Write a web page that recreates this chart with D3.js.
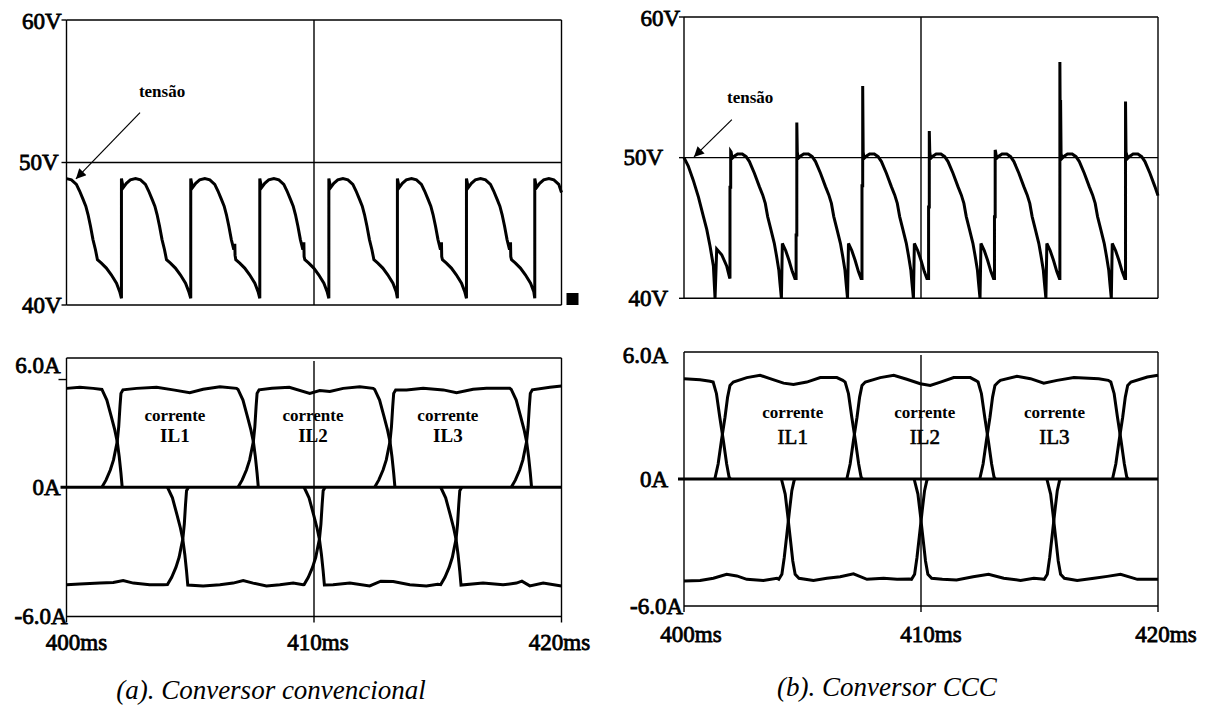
<!DOCTYPE html>
<html><head><meta charset="utf-8">
<script src="https://cdn.jsdelivr.net/npm/d3@7"></script>
<style>body{margin:0;background:#fff}svg{display:block}</style>
</head><body>
<svg id="c" width="1210" height="706"></svg>
<script>
// ---------- data ----------
const timeTicks = [400, 410, 420];
const voltTicks = [60, 50, 40];
const currTicks = [6, 0, -6];
const timeLabels = ["400ms", "410ms", "420ms"];
const voltLabels = ["60V", "50V", "40V"];
const currLabels = ["6.0A", "0A", "-6.0A"];
const captions = ["(a). Conversor convencional", "(b). Conversor CCC"];
const currentNames = ["IL1", "IL2", "IL3"];

// (a) output voltage, conventional converter  [ms, V]
const voltA = [
[400.00,48.87],[400.20,48.78],[400.40,48.47],[400.53,48.00],[400.67,47.41],[400.78,46.94],[400.87,46.35],[400.97,45.53],[401.07,44.59],[401.17,43.88],[401.25,43.18],[401.41,42.94],[401.61,42.59],[401.81,42.12],[402.02,41.53],[402.15,40.94],
[402.22,40.47],[402.22,48.87],[402.29,48.24],[402.42,48.54],[402.58,48.78],[402.79,48.87],[402.99,48.78],[403.19,48.47],[403.32,48.00],[403.46,47.41],[403.57,46.94],[403.66,46.35],[403.76,45.53],[403.86,44.59],[403.96,43.88],[404.04,43.18],[404.20,42.94],[404.40,42.59],[404.60,42.12],[404.81,41.53],[404.94,40.94],
[405.02,40.47],[405.02,48.87],[405.09,48.24],[405.22,48.54],[405.38,48.78],[405.59,48.87],[405.79,48.78],[405.99,48.47],[406.12,48.00],[406.26,47.41],[406.37,46.94],[406.46,46.35],[406.56,45.53],[406.66,44.59],[406.76,43.88],[406.80,44.30],[406.81,43.50],[406.84,43.18],[407.00,42.94],[407.20,42.59],[407.40,42.12],[407.61,41.53],[407.74,40.94],
[407.81,40.47],[407.81,48.87],[407.88,48.24],[408.01,48.54],[408.17,48.78],[408.38,48.87],[408.58,48.78],[408.78,48.47],[408.91,48.00],[409.05,47.41],[409.16,46.94],[409.25,46.35],[409.35,45.53],[409.45,44.59],[409.55,43.88],[409.59,44.40],[409.60,43.40],[409.63,43.18],[409.79,42.94],[409.99,42.59],[410.19,42.12],[410.40,41.53],[410.53,40.94],
[410.60,40.47],[410.60,48.87],[410.67,48.24],[410.80,48.54],[410.96,48.78],[411.17,48.87],[411.37,48.78],[411.57,48.47],[411.70,48.00],[411.84,47.41],[411.95,46.94],[412.04,46.35],[412.14,45.53],[412.24,44.59],[412.34,43.88],[412.42,43.18],[412.58,42.94],[412.78,42.59],[412.98,42.12],[413.19,41.53],[413.32,40.94],
[413.37,40.47],[413.37,48.87],[413.44,48.24],[413.57,48.54],[413.73,48.78],[413.94,48.87],[414.14,48.78],[414.34,48.47],[414.47,48.00],[414.61,47.41],[414.72,46.94],[414.81,46.35],[414.91,45.53],[415.01,44.59],[415.11,43.88],[415.15,44.40],[415.16,43.40],[415.19,43.18],[415.35,42.94],[415.55,42.59],[415.75,42.12],[415.96,41.53],[416.09,40.94],
[416.16,40.47],[416.16,48.87],[416.23,48.24],[416.36,48.54],[416.52,48.78],[416.73,48.87],[416.93,48.78],[417.13,48.47],[417.26,48.00],[417.40,47.41],[417.51,46.94],[417.60,46.35],[417.70,45.53],[417.80,44.59],[417.90,43.88],[417.94,44.40],[417.95,43.40],[417.98,43.18],[418.14,42.94],[418.34,42.59],[418.54,42.12],[418.75,41.53],[418.88,40.94],
[418.92,40.47],[418.92,48.87],[418.99,48.24],[419.12,48.54],[419.28,48.78],[419.49,48.87],[419.69,48.78],[419.89,48.47],[420.00,47.90]
];

// (b) output voltage, CCC converter  [ms, V]
const voltB = [
[400.00,50.00],[400.18,49.40],[400.39,48.40],[400.61,47.20],[400.82,45.80],[400.96,44.90],[401.10,43.70],[401.24,42.30],[401.31,40.00],[401.38,43.50],[401.59,43.10],[401.80,42.30],[401.92,41.50],
[401.94,41.40],[401.94,47.90],[401.97,47.90],[401.97,50.45],[401.99,50.40],[402.03,49.95],[402.12,50.10],[402.26,50.26],[402.46,50.26],[402.62,50.07],[402.76,49.72],[402.97,48.89],[403.18,47.94],[403.32,47.35],[403.43,46.75],[403.53,45.81],[403.67,44.86],[403.81,43.91],[403.91,42.96],[404.00,42.02],[404.05,41.07],[404.11,40.00],[404.15,43.90],[404.29,43.40],[404.43,42.70],[404.57,41.90],[404.68,41.40],
[404.73,41.40],[404.73,44.50],[404.76,44.50],[404.76,52.50],[404.78,50.40],[404.82,49.95],[404.91,50.10],[405.05,50.26],[405.25,50.26],[405.41,50.07],[405.55,49.72],[405.76,48.89],[405.97,47.94],[406.11,47.35],[406.22,46.75],[406.32,45.81],[406.46,44.86],[406.60,43.91],[406.70,42.96],[406.79,42.02],[406.84,41.07],[406.90,40.00],[406.94,43.90],[407.08,43.40],[407.22,42.70],[407.36,41.90],[407.47,41.40],
[407.51,41.40],[407.51,48.00],[407.54,48.00],[407.54,55.10],[407.56,50.40],[407.60,49.95],[407.69,50.10],[407.83,50.26],[408.03,50.26],[408.19,50.07],[408.33,49.72],[408.54,48.89],[408.75,47.94],[408.89,47.35],[409.00,46.75],[409.10,45.81],[409.24,44.86],[409.38,43.91],[409.48,42.96],[409.57,42.02],[409.62,41.07],[409.68,40.00],[409.72,43.90],[409.86,43.40],[410.00,42.70],[410.14,41.90],[410.25,41.40],
[410.32,41.40],[410.32,46.50],[410.35,46.50],[410.35,51.90],[410.37,50.40],[410.41,49.95],[410.50,50.10],[410.64,50.26],[410.84,50.26],[411.00,50.07],[411.14,49.72],[411.35,48.89],[411.56,47.94],[411.70,47.35],[411.81,46.75],[411.91,45.81],[412.05,44.86],[412.19,43.91],[412.29,42.96],[412.38,42.02],[412.43,41.07],[412.49,40.00],[412.53,43.90],[412.67,43.40],[412.81,42.70],[412.95,41.90],[413.06,41.40],
[413.10,41.40],[413.10,45.80],[413.13,45.80],[413.13,50.55],[413.15,50.40],[413.19,49.95],[413.28,50.10],[413.42,50.26],[413.62,50.26],[413.78,50.07],[413.92,49.72],[414.13,48.89],[414.34,47.94],[414.48,47.35],[414.59,46.75],[414.69,45.81],[414.83,44.86],[414.97,43.91],[415.07,42.96],[415.16,42.02],[415.21,41.07],[415.27,40.00],[415.31,43.90],[415.45,43.40],[415.59,42.70],[415.73,41.90],[415.84,41.40],
[415.86,41.40],[415.86,56.80],[415.88,50.40],[415.89,54.10],[415.91,50.30],[415.95,49.95],[416.04,50.10],[416.18,50.26],[416.38,50.26],[416.54,50.07],[416.68,49.72],[416.89,48.89],[417.10,47.94],[417.24,47.35],[417.35,46.75],[417.45,45.81],[417.59,44.86],[417.73,43.91],[417.83,42.96],[417.92,42.02],[417.97,41.07],[418.03,40.00],[418.07,43.90],[418.21,43.40],[418.35,42.70],[418.49,41.90],[418.60,41.40],
[418.63,41.40],[418.63,54.00],[418.65,50.40],[418.72,49.95],[418.81,50.10],[418.95,50.26],[419.15,50.26],[419.31,50.07],[419.45,49.72],[419.66,48.89],[419.87,47.94],[420.00,47.30]
];

// (a) inductor currents [ms, A] : positive pulses
const curA_p0 = [[400.00,4.59],[400.54,4.64],[401.08,4.59],[401.43,4.54],[401.63,4.05],[401.81,3.28],[401.95,2.66],[402.05,2.12],[402.13,1.42],[402.20,0.65],[402.25,0]];
const curA_p1 = [[401.43,0],[401.60,0.34],[401.77,0.80],[401.90,1.27],[401.98,1.73],[402.05,2.12],[402.11,2.81],[402.16,3.74],[402.20,4.36],[402.28,4.52],[402.83,4.59],[403.64,4.64],[404.31,4.52],[404.98,4.39],[405.52,4.55],[406.20,4.67],[406.87,4.59],[406.93,4.54],[407.13,4.05],[407.31,3.28],[407.45,2.66],[407.55,2.12],[407.63,1.42],[407.70,0.65],[407.75,0]];
const curA_p2 = [[406.93,0],[407.10,0.34],[407.27,0.80],[407.40,1.27],[407.48,1.73],[407.55,2.12],[407.61,2.81],[407.66,3.74],[407.70,4.36],[407.78,4.52],[408.30,4.60],[409.00,4.64],[409.83,4.36],[410.23,4.49],[410.64,4.45],[411.18,4.59],[411.85,4.67],[412.39,4.59],[412.45,4.54],[412.65,4.05],[412.83,3.28],[412.97,2.66],[413.07,2.12],[413.15,1.42],[413.22,0.65],[413.27,0]];
const curA_p3 = [[412.45,0],[412.62,0.34],[412.79,0.80],[412.92,1.27],[413.00,1.73],[413.07,2.12],[413.13,2.81],[413.18,3.74],[413.22,4.36],[413.30,4.52],[413.74,4.52],[414.41,4.59],[415.22,4.52],[415.76,4.39],[416.43,4.55],[416.97,4.59],[417.91,4.59],[417.97,4.54],[418.17,4.05],[418.35,3.28],[418.49,2.66],[418.59,2.12],[418.67,1.42],[418.74,0.65],[418.79,0]];
const curA_p4 = [[417.97,0],[418.14,0.34],[418.31,0.80],[418.44,1.27],[418.52,1.73],[418.59,2.12],[418.65,2.81],[418.70,3.74],[418.74,4.36],[418.82,4.52],[419.53,4.64],[420.00,4.70]];
// (a) negative pulses
const curA_n0 = [[400.00,-4.53],[400.54,-4.49],[401.35,-4.45],[401.89,-4.42],[402.29,-4.33],[402.70,-4.45],[403.36,-4.53],[403.91,-4.53],[404.08,-4.52],[404.25,-4.18],[404.42,-3.72],[404.55,-3.25],[404.63,-2.79],[404.70,-2.40],[404.76,-1.71],[404.81,-0.78],[404.85,-0.16],[404.93,0]];
const curA_n1 = [[404.08,0],[404.28,-0.49],[404.46,-1.26],[404.60,-1.88],[404.70,-2.42],[404.78,-3.12],[404.85,-3.89],[404.90,-4.54],[405.52,-4.58],[406.20,-4.53],[406.73,-4.45],[407.14,-4.33],[407.54,-4.45],[408.08,-4.58],[408.62,-4.53],[409.16,-4.45],[409.56,-4.53],[409.60,-4.52],[409.77,-4.18],[409.94,-3.72],[410.07,-3.25],[410.15,-2.79],[410.22,-2.40],[410.28,-1.71],[410.33,-0.78],[410.37,-0.16],[410.45,0]];
const curA_n2 = [[409.60,0],[409.80,-0.49],[409.98,-1.26],[410.12,-1.88],[410.22,-2.42],[410.30,-3.12],[410.37,-3.89],[410.42,-4.54],[410.77,-4.53],[411.45,-4.45],[412.25,-4.58],[412.70,-4.36],[413.20,-4.38],[413.87,-4.53],[414.54,-4.58],[415.00,-4.50],[415.12,-4.52],[415.29,-4.18],[415.46,-3.72],[415.59,-3.25],[415.67,-2.79],[415.74,-2.40],[415.80,-1.71],[415.85,-0.78],[415.89,-0.16],[415.97,0]];
const curA_n3 = [[415.12,0],[415.32,-0.49],[415.50,-1.26],[415.64,-1.88],[415.74,-2.42],[415.82,-3.12],[415.89,-3.89],[415.94,-4.54],[416.83,-4.45],[417.64,-4.53],[418.18,-4.45],[418.40,-4.36],[418.72,-4.58],[419.26,-4.45],[420.00,-4.58]];

// (b) inductor currents [ms, A] : positive pulses
const curB_p0 = [[400.00,4.74],[400.68,4.69],[401.10,4.62],[401.23,4.58],[401.37,4.03],[401.51,2.92],[401.66,1.82],[401.80,0.71],[401.90,0.10],[401.96,0]];
const curB_p1 = [[401.30,0],[401.44,0.71],[401.58,1.82],[401.73,2.92],[401.84,3.87],[401.94,4.42],[402.08,4.58],[402.65,4.79],[403.21,4.90],[403.63,4.74],[404.20,4.53],[404.62,4.47],[405.18,4.58],[405.75,4.79],[406.45,4.79],[406.70,4.66],[406.80,4.58],[406.94,4.03],[407.08,2.92],[407.23,1.82],[407.37,0.71],[407.47,0.10],[407.53,0]];
const curB_p2 = [[406.87,0],[407.01,0.71],[407.15,1.82],[407.30,2.92],[407.41,3.87],[407.51,4.42],[407.65,4.58],[408.28,4.79],[408.85,4.90],[409.40,4.71],[409.97,4.50],[410.39,4.42],[410.82,4.58],[411.38,4.79],[412.08,4.79],[412.30,4.66],[412.41,4.58],[412.55,4.03],[412.69,2.92],[412.84,1.82],[412.98,0.71],[413.08,0.10],[413.14,0]];
const curB_p3 = [[412.48,0],[412.62,0.71],[412.76,1.82],[412.91,2.92],[413.02,3.87],[413.12,4.42],[413.26,4.58],[413.35,4.66],[414.05,4.85],[414.62,4.74],[415.18,4.53],[415.74,4.66],[416.45,4.79],[417.50,4.74],[417.90,4.66],[418.01,4.58],[418.15,4.03],[418.29,2.92],[418.44,1.82],[418.58,0.71],[418.68,0.10],[418.74,0]];
const curB_p4 = [[418.08,0],[418.22,0.71],[418.36,1.82],[418.51,2.92],[418.62,3.87],[418.72,4.42],[418.86,4.58],[419.55,4.82],[420.00,4.90]];
// (b) negative pulses
const curB_n0 = [[400.00,-4.82],[400.68,-4.79],[401.24,-4.69],[401.80,-4.50],[402.23,-4.58],[402.65,-4.74],[403.35,-4.79],[403.92,-4.69],[404.00,-4.74],[404.13,-4.50],[404.23,-3.71],[404.34,-2.61],[404.45,-1.50],[404.55,-0.55],[404.65,-0.05],[404.69,0]];
const curB_n1 = [[404.11,0],[404.27,-0.71],[404.37,-1.66],[404.48,-2.76],[404.59,-3.87],[404.69,-4.50],[404.85,-4.69],[405.46,-4.79],[406.03,-4.69],[406.59,-4.62],[407.15,-4.48],[407.72,-4.74],[408.42,-4.69],[408.99,-4.74],[409.50,-4.72],[409.60,-4.74],[409.73,-4.50],[409.83,-3.71],[409.94,-2.61],[410.05,-1.50],[410.15,-0.55],[410.25,-0.05],[410.29,0]];
const curB_n2 = [[409.71,0],[409.87,-0.71],[409.97,-1.66],[410.08,-2.76],[410.19,-3.87],[410.29,-4.50],[410.45,-4.69],[410.90,-4.74],[411.50,-4.77],[412.20,-4.62],[412.85,-4.50],[413.49,-4.69],[414.20,-4.79],[414.76,-4.69],[415.10,-4.72],[415.20,-4.74],[415.33,-4.50],[415.43,-3.71],[415.54,-2.61],[415.65,-1.50],[415.75,-0.55],[415.85,-0.05],[415.89,0]];
const curB_n3 = [[415.31,0],[415.47,-0.71],[415.57,-1.66],[415.68,-2.76],[415.79,-3.87],[415.89,-4.50],[416.05,-4.69],[416.59,-4.79],[417.30,-4.69],[417.86,-4.60],[418.42,-4.50],[419.13,-4.74],[420.00,-4.74]];

// annotation anchors (data units)
const arrowA = {label:[403.86,55.0], from:[402.97,53.5], to:[400.38,48.85]};
const arrowB = {label:[402.79,54.3], from:[402.02,52.7], to:[400.42,50.05]};
const labelTimesA = [404.38, 409.96, 415.41];
const labelTimesB = [404.59, 410.16, 415.63];

// ---------- drawing ----------
const svg = d3.select('#c');
const SERIF = "'Liberation Serif','Times New Roman',Times,serif";

svg.append('defs').append('marker')
  .attr('id','ah').attr('viewBox','0 0 10 10').attr('refX',10).attr('refY',5)
  .attr('markerWidth',14).attr('markerHeight',10).attr('markerUnits','userSpaceOnUse')
  .attr('orient','auto')
  .append('path').attr('d','M0,0 L10,5 L0,10 Z').attr('fill','#000');

function label(g, txt, xx, yy, anchor, size, opts) {
  opts = opts || {};
  return g.append('text').attr('x', xx).attr('y', yy)
    .attr('text-anchor', anchor).attr('dominant-baseline','central')
    .style('font-family', SERIF).style('font-size', size + 'px')
    .style('font-weight', opts.bold ? 'bold' : 'normal')
    .style('font-style', opts.italic ? 'italic' : 'normal')
    .attr('stroke', opts.stroke ? '#000' : 'none').attr('stroke-width', opts.stroke || 0)
    .attr('fill', '#000')
    .text(txt);
}

const panels = [
  {xr:[66.5,561.5], yv:[305,20], yi:[616.5,358],
   volt: voltA, pos:[curA_p0,curA_p1,curA_p2,curA_p3,curA_p4], neg:[curA_n0,curA_n1,curA_n2,curA_n3],
   vLab:[{dx:-5,dy:1},{dx:-8,dy:0},{dx:-5,dy:0}],
   iLab:[{dx:-6,dy:7},{dx:-6,dy:0},{dx:1,dy:0}],
   tLab:[{dx:10},{dx:4},{dx:-2}], tY:642,
   arrow: arrowA, labT: labelTimesA, corrY:3.35, ilY:2.38, square:true, tick5:true},
  {xr:[684,1158], yv:[298.3,17], yi:[606,352],
   volt: voltB, pos:[curB_p0,curB_p1,curB_p2,curB_p3,curB_p4], neg:[curB_n0,curB_n1,curB_n2,curB_n3],
   vLab:[{dx:-4,dy:1},{dx:-21,dy:0},{dx:-16,dy:0}],
   iLab:[{dx:-16,dy:3},{dx:-16,dy:0},{dx:-1,dy:0}],
   tLab:[{dx:7},{dx:10},{dx:8}], tY:634,
   arrow: arrowB, labT: labelTimesB, corrY:3.13, ilY:2.0, square:false, tick5:false}
];

panels.forEach((P, pi) => {
  const x = d3.scaleLinear().domain([timeTicks[0], timeTicks[2]]).range(P.xr);
  const yV = d3.scaleLinear().domain([voltTicks[2], voltTicks[0]]).range(P.yv);
  const yI = d3.scaleLinear().domain([currTicks[2], currTicks[0]]).range(P.yi);
  const g = svg.append('g');
  const thin = 1.4;

  // ---- voltage frame ----
  voltTicks.forEach(v => {
    g.append('line').attr('x1', x(400)).attr('x2', x(420)).attr('y1', yV(v)).attr('y2', yV(v))
      .attr('stroke','#000').attr('stroke-width', thin);
    g.append('line').attr('x1', x(400)-5).attr('x2', x(400)).attr('y1', yV(v)).attr('y2', yV(v))
      .attr('stroke','#000').attr('stroke-width', thin);
  });
  timeTicks.forEach(t => {
    g.append('line').attr('x1', x(t)).attr('x2', x(t)).attr('y1', yV(60)).attr('y2', yV(40))
      .attr('stroke','#000').attr('stroke-width', thin);
  });
  voltTicks.forEach((v,i) => {
    label(g, voltLabels[i], x(400)+P.vLab[i].dx, yV(v)+P.vLab[i].dy, 'end', 23, {stroke:0.8});
  });

  const lineV = d3.line().x(d => x(d[0])).y(d => yV(d[1]));
  g.append('path').datum(P.volt).attr('d', lineV)
    .attr('fill','none').attr('stroke','#000').attr('stroke-width',3).attr('stroke-linejoin','miter');

  // arrow + label
  g.append('line').attr('x1', x(P.arrow.from[0])).attr('y1', yV(P.arrow.from[1]))
    .attr('x2', x(P.arrow.to[0])).attr('y2', yV(P.arrow.to[1]))
    .attr('stroke','#000').attr('stroke-width',1.2).attr('marker-end','url(#ah)');
  label(g, 'tensão', x(P.arrow.label[0]), yV(P.arrow.label[1]), 'middle', 17, {bold:true});

  if (P.square) {
    g.append('rect').attr('x', x(420)+5).attr('y', yV(40)-12).attr('width',12).attr('height',12).attr('fill','#000');
  }

  // ---- current frame ----
  [currTicks[0], currTicks[2]].forEach(v => {
    g.append('line').attr('x1', x(400)).attr('x2', x(420)).attr('y1', yI(v)).attr('y2', yI(v))
      .attr('stroke','#000').attr('stroke-width', thin);
  });
  timeTicks.forEach(t => {
    g.append('line').attr('x1', x(t)).attr('x2', x(t)).attr('y1', yI(6)+ (t===410?3:0)).attr('y2', yI(-6)+6)
      .attr('stroke','#000').attr('stroke-width', thin);
  });
  if (P.tick5) {
    g.append('line').attr('x1', x(400)-8).attr('x2', x(400)).attr('y1', yI(5)).attr('y2', yI(5))
      .attr('stroke','#000').attr('stroke-width', thin);
  }
  // zero baseline (traces resting at 0 A)
  g.append('line').attr('x1', x(400)-6).attr('x2', x(420)).attr('y1', yI(0)).attr('y2', yI(0))
    .attr('stroke','#000').attr('stroke-width', 3);

  currTicks.forEach((v,i) => {
    label(g, currLabels[i], x(400)+P.iLab[i].dx, yI(v)+P.iLab[i].dy, 'end', 23, {stroke:0.8});
  });
  timeTicks.forEach((t,i) => {
    label(g, timeLabels[i], x(t)+P.tLab[i].dx, P.tY, 'middle', 23, {stroke:0.8});
  });

  const lineI = d3.line().x(d => x(d[0])).y(d => yI(d[1]));
  P.pos.concat(P.neg).forEach(arr => {
    g.append('path').datum(arr).attr('d', lineI)
      .attr('fill','none').attr('stroke','#000').attr('stroke-width',3).attr('stroke-linejoin','miter');
  });

  P.labT.forEach((t,i) => {
    label(g, 'corrente', x(t), yI(P.corrY), 'middle', 17, {bold:true});
    if (pi === 0) label(g, currentNames[i], x(t), yI(P.ilY), 'middle', 19, {bold:true});
    else label(g, currentNames[i], x(t), yI(P.ilY), 'middle', 21, {stroke:0.6});
  });

  // caption
  label(svg, captions[pi], pi===0 ? 271 : 887, pi===0 ? 690 : 687, 'middle', 27, {italic:true});
});
</script>
</body></html>
